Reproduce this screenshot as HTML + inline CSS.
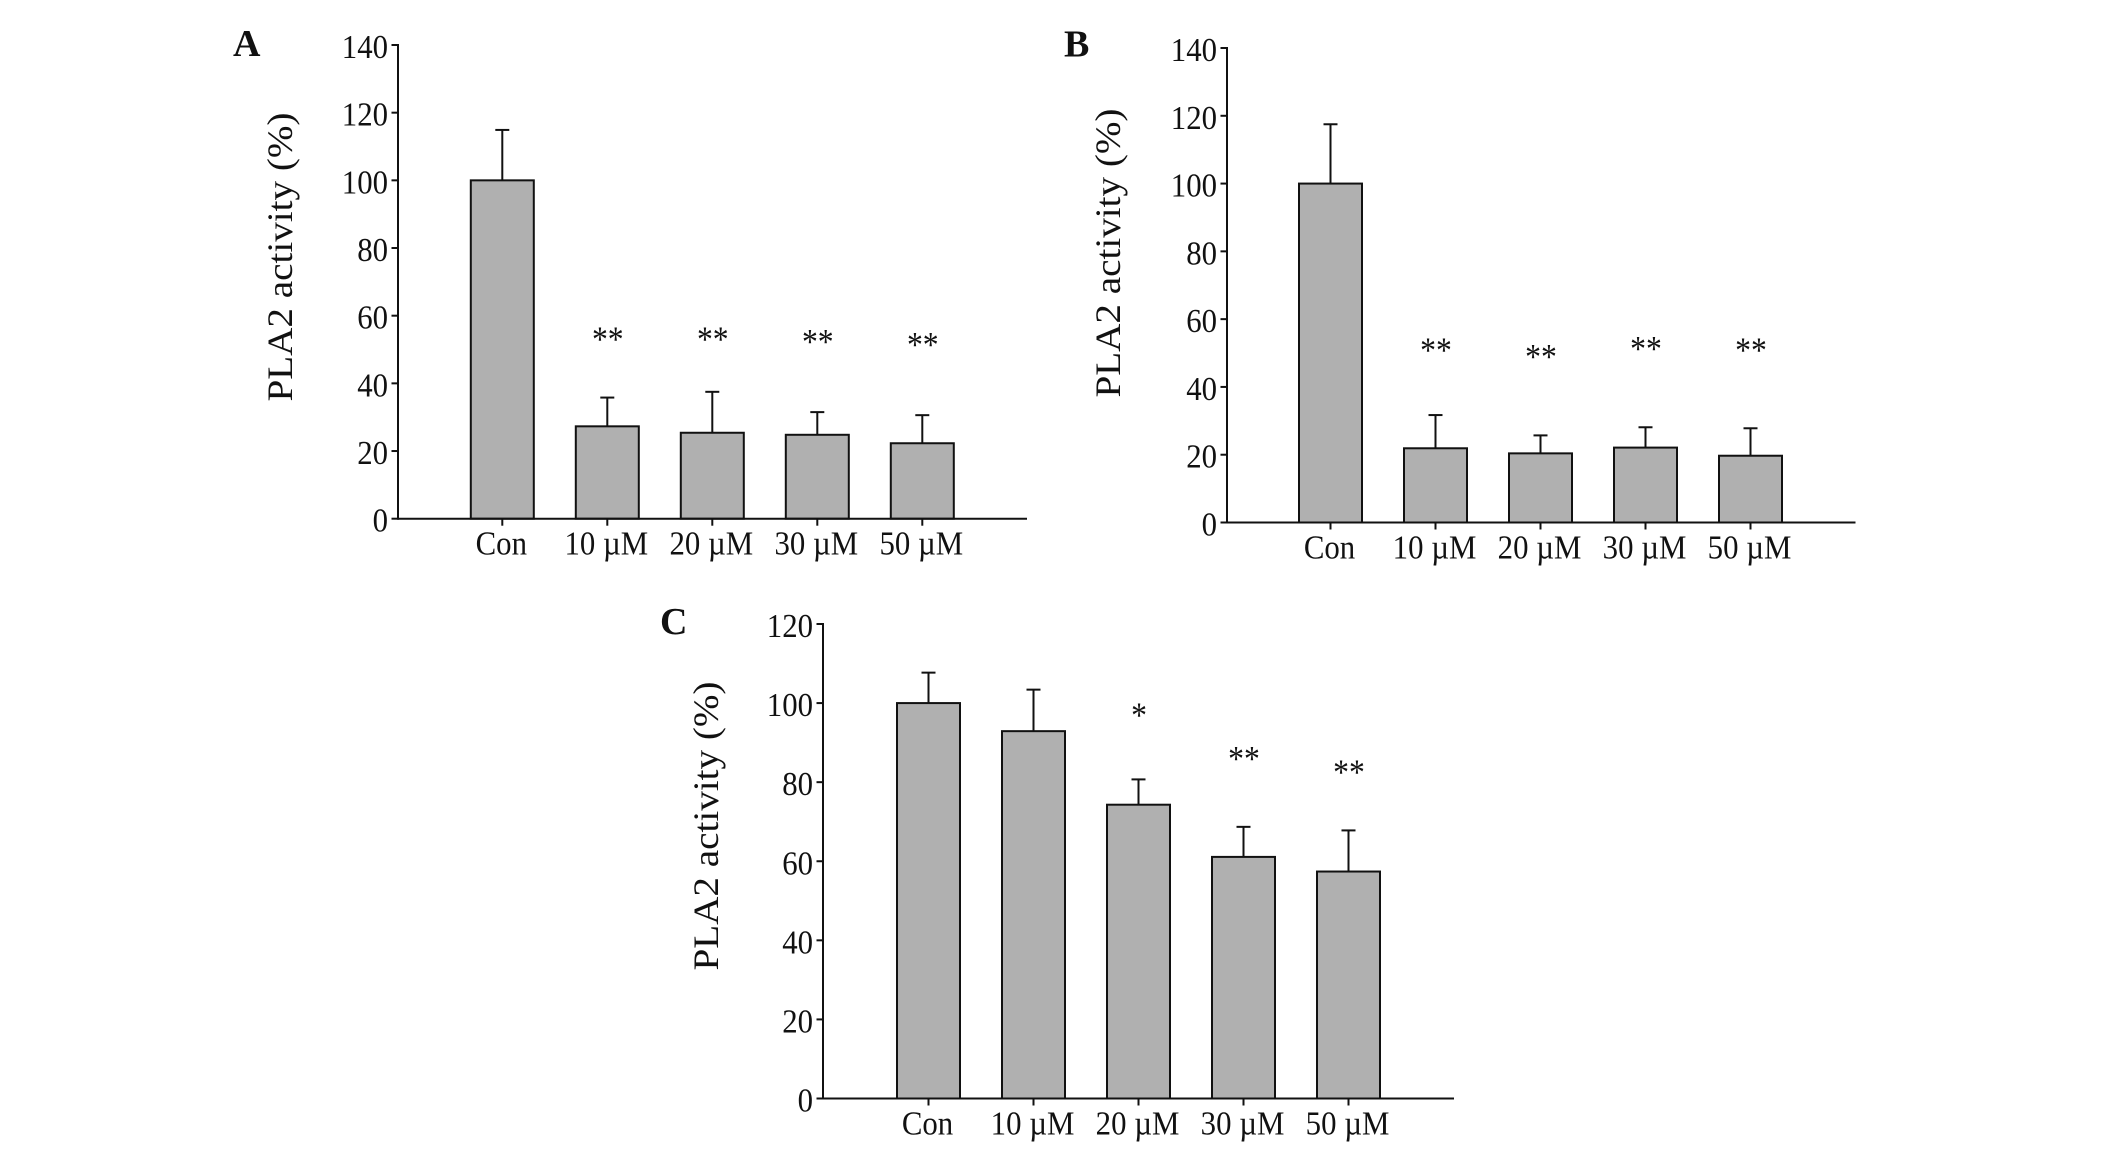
<!DOCTYPE html>
<html>
<head>
<meta charset="utf-8">
<title>PLA2 activity</title>
<style>
html,body{margin:0;padding:0;background:#fff;}
svg{display:block;}
text{font-family:"Liberation Serif",serif;fill:#111;}
</style>
</head>
<body>
<svg id="figure" width="2126" height="1165" viewBox="0 0 2126 1165" xmlns="http://www.w3.org/2000/svg"></svg>
<script>
const categories = ["Con", "10 µM", "20 µM", "30 µM", "50 µM"];

const panelAValues = [100, 27.3, 25.4, 24.8, 22.3];
const panelAErrorTops = [114.9, 35.8, 37.5, 31.5, 30.6];
const panelAMarks = ["", "**", "**", "**", "**"];
const panelAMarkLevels = [0, 54, 54, 53.3, 52.4];
const panelATicks = [0, 20, 40, 60, 80, 100, 120, 140];

const panelBValues = [100, 21.9, 20.4, 22.1, 19.7];
const panelBErrorTops = [117.5, 31.7, 25.7, 28.1, 27.8];
const panelBMarks = ["", "**", "**", "**", "**"];
const panelBMarkLevels = [0, 51.8, 49.8, 52.2, 51.8];
const panelBTicks = [0, 20, 40, 60, 80, 100, 120, 140];

const panelCValues = [100, 92.9, 74.3, 61.1, 57.4];
const panelCErrorTops = [107.7, 103.4, 80.7, 68.7, 67.8];
const panelCMarks = ["", "", "*", "**", "**"];
const panelCMarkLevels = [0, 0, 97.7, 86.7, 83.3];
const panelCTicks = [0, 20, 40, 60, 80, 100, 120];

const NS = "http://www.w3.org/2000/svg";
const svg = document.getElementById("figure");

function make(parent, tag, attrs, text) {
  const el = document.createElementNS(NS, tag);
  for (const k in attrs) el.setAttribute(k, attrs[k]);
  if (text !== undefined) el.textContent = text;
  parent.appendChild(el);
  return el;
}

function drawPanel(p) {
  const group = make(svg, "g", {});
  
  

  const maxTick = p.ticks[p.ticks.length - 1];
  const yScale = v => p.y0 - (v / maxTick) * (p.y0 - p.yTop);
  const xScale = i => p.firstCenter + i * p.step;
  const barWidth = 63;
  const labelSize = 33.5;
  const labelStretch = 0.92;

  const letter = make(group, "text", {x: p.letterX, y: p.letterY, "font-size": 38, "font-weight": "bold"}, p.id);
  
  

  const title = make(group, "text", {
    x: 0, y: 0, "font-size": 36, "text-anchor": "middle",
    transform: "translate(" + p.titleX + "," + p.titleY + ") rotate(-90) scale(1.087,1)"
  }, "PLA2 activity (%)");
  
  

  categories.forEach((cat, i) => {
    const cx = xScale(i);
    const top = yScale(p.values[i]);
    const errTop = yScale(p.errorTops[i]);

    const stem = make(group, "line", {x1: cx, x2: cx, y1: top, y2: errTop, stroke: "#111", "stroke-width": 2});
    
    

    const cap = make(group, "line", {x1: cx - 7, x2: cx + 7, y1: errTop, y2: errTop, stroke: "#111", "stroke-width": 2});
    
    

    const bar = make(group, "rect", {
      x: cx - barWidth / 2, y: top, width: barWidth, height: p.y0 - top,
      fill: "#b0b0b0", stroke: "#111", "stroke-width": 2
    });
    
    

    const tick = make(group, "line", {x1: cx, x2: cx, y1: p.y0, y2: p.y0 + 7, stroke: "#111", "stroke-width": 2});
    
    

    const label = make(group, "text", {
      x: 0, y: 0, "font-size": labelSize, "text-anchor": "middle",
      transform: "translate(" + (cx - 1) + "," + (p.y0 + 36) + ") scale(" + labelStretch + ",1)"
    }, cat);
    
    

    if (p.marks[i]) {
      const mark = make(group, "text", {
        x: 0, y: 0, "font-size": 36, "text-anchor": "middle",
        transform: "translate(" + (cx + 0.5) + "," + (yScale(p.markLevels[i]) + 15) + ") scale(0.88,1)"
      }, p.marks[i]);
      
      
    }
  });

  const yAxis = make(group, "line", {x1: p.axisX, x2: p.axisX, y1: p.yTop - 1, y2: p.y0 + 1, stroke: "#111", "stroke-width": 2});
  
  

  const xAxis = make(group, "line", {x1: p.axisX, x2: p.axisRight, y1: p.y0, y2: p.y0, stroke: "#111", "stroke-width": 2});
  
  

  p.ticks.forEach(t => {
    const y = yScale(t);
    const tick = make(group, "line", {x1: p.axisX - 6.5, x2: p.axisX, y1: y, y2: y, stroke: "#111", "stroke-width": 2});
    
    

    const label = make(group, "text", {
      x: 0, y: 0, "font-size": labelSize, "text-anchor": "end",
      transform: "translate(" + (p.axisX - 10) + "," + (y + 13) + ") scale(" + labelStretch + ",1)"
    }, String(t));
    
    
  });
}

drawPanel({
  id: "A", values: panelAValues, errorTops: panelAErrorTops, marks: panelAMarks, markLevels: panelAMarkLevels, ticks: panelATicks,
  axisX: 398, axisRight: 1027, y0: 518.7, yTop: 45, firstCenter: 502.3, step: 105,
  letterX: 233, letterY: 56, titleX: 292, titleY: 257
});
drawPanel({
  id: "B", values: panelBValues, errorTops: panelBErrorTops, marks: panelBMarks, markLevels: panelBMarkLevels, ticks: panelBTicks,
  axisX: 1227, axisRight: 1855.5, y0: 522.5, yTop: 48, firstCenter: 1330.5, step: 105,
  letterX: 1064, letterY: 56.5, titleX: 1120, titleY: 253
});
drawPanel({
  id: "C", values: panelCValues, errorTops: panelCErrorTops, marks: panelCMarks, markLevels: panelCMarkLevels, ticks: panelCTicks,
  axisX: 823, axisRight: 1454, y0: 1098.5, yTop: 624, firstCenter: 928.5, step: 105,
  letterX: 660, letterY: 634, titleX: 718, titleY: 826
});
</script>
</body>
</html>
